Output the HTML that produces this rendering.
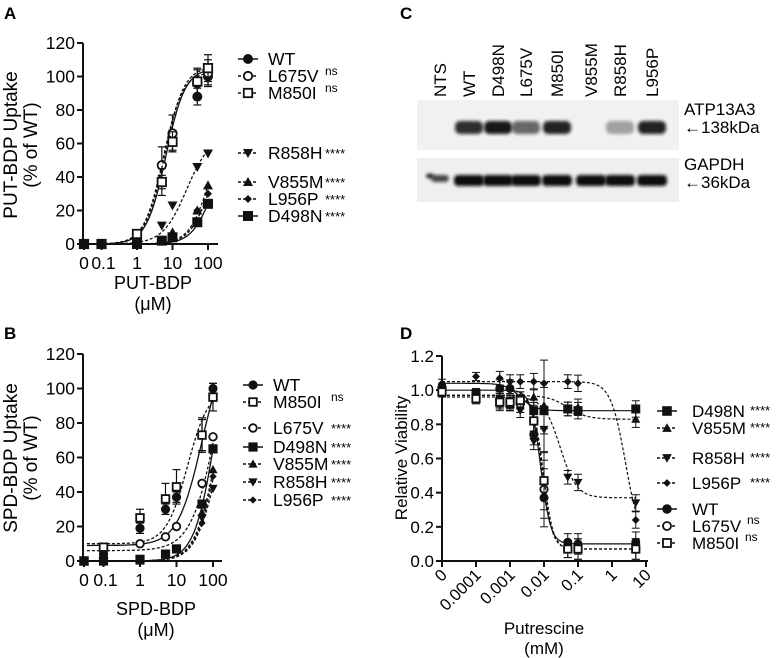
<!DOCTYPE html>
<html><head><meta charset="utf-8"><style>
body{margin:0;background:#fff;}
svg{display:block;font-family:"Liberation Sans",Arial,sans-serif;}
</style></head><body>
<svg id="fig" width="777" height="658" viewBox="0 0 777 658" xmlns="http://www.w3.org/2000/svg">
<defs><filter id="blur" x="-30%" y="-60%" width="160%" height="220%"><feGaussianBlur stdDeviation="1.6"/></filter></defs>
<g id="gA"></g>
<g id="gB"></g>
<g id="gC"></g>
<g id="gD"></g>
</svg>
<script>
// ---------- Panel A data ----------
const concA = [0, 0.1, 1, 5, 10, 50, 100];
const namesA = ["WT","L675V","M850I","R858H","V855M","L956P","D498N"];
const valsA_WT    = [0,0,5,37,62,88,100];
const valsA_L675V = [0,0,6,47,66,96,102];
const valsA_M850I = [0,0,6,37,61,97,105];
const valsA_R858H = [0,0,1,11,23,46,54];
const valsA_V855M = [0,0,0,2,7,20,35];
const valsA_L956P = [0,0,0,2,5,20,30];
const valsA_D498N = [0,0,0,2,4,13,24];
const errA_WT    = [0,0,1,4,6,5,5];
const errA_L675V = [0,0,1,11,11,8,8];
const errA_M850I = [0,0,1,8,6,8,8];
const fitA = [[0,105,6.5,1.6],[0,103,5.5,1.6],[0,106,6,1.6],[0,65,25,1.3],[0,80,118,1.5],[0,70,120,1.5],[0,60,130,1.5]];
const sigA = ["","ns","ns","****","****","****","****"];
const yTicksA = [0,20,40,60,80,100,120];
const xTickValsA = [0.1,1,10,100];
const xTickLabelsA = ["0.1","1","10","100"];

// ---------- Panel B data ----------
const concB = [0, 0.1, 1, 5, 10, 50, 100];
const namesB = ["WT","M850I","L675V","D498N","V855M","R858H","L956P"];
const valsB_WT    = [0,4,19,30,37,73,100];
const valsB_M850I = [0,8,25,36,43,73,95];
const valsB_L675V = [0,0,10,14,20,45,72];
const valsB_D498N = [0,0,1,4,7,33,65];
const valsB_V855M = [0,0,0,4,7,28,53];
const valsB_R858H = [0,0,0,4,7,25,42];
const valsB_L956P = [0,0,0,4,7,22,49];
const errB_WT    = [0,1,3,3,3,9,3];
const errB_M850I = [0,1,5,9,10,10,8];
const fitB = [[9,130,50,1.3],[10,100,20,1.5],[6,170,150,1.2],[0,150,120,1.5],[0,120,120,1.5],[0,100,120,1.5],[0,110,120,1.5]];
const sigB = ["","ns","****","****","****","****","****"];
const yTicksB = [0,20,40,60,80,100,120];

// ---------- Panel D data ----------
const concD = [0,0.0001,0.0005,0.001,0.002,0.005,0.01,0.05,0.1,5];
const namesD = ["D498N","V855M","R858H","L956P","WT","L675V","M850I"];
const valsD_D498N = [1.00,0.98,0.93,0.92,0.95,0.88,0.88,0.89,0.88,0.89];
const valsD_V855M = [1.01,0.97,0.94,0.93,0.93,0.96,0.91,0.89,0.90,0.83];
const valsD_R858H = [1.00,0.97,0.95,0.93,0.88,0.70,0.77,0.49,0.46,0.34];
const valsD_L956P = [1.04,1.08,1.07,1.05,1.05,1.05,1.04,1.05,1.04,0.24];
const valsD_WT    = [1.00,0.98,1.01,1.01,0.92,0.74,0.37,0.11,0.10,0.11];
const valsD_L675V = [1.00,0.96,0.94,0.93,0.92,0.82,0.42,0.07,0.07,0.07];
const valsD_M850I = [0.99,0.95,0.93,0.93,0.94,0.82,0.47,0.07,0.07,0.07];
const errD = [0.03,0.03,0.05,0.05,0.05,0.06,0.17,0.05,0.06,0.06];
const fitD = [[1.04,0.88,0.002,2],[0.97,0.83,0.05,1.5],[0.96,0.37,0.03,1.8],[1.05,0.1,2.5,2],[1.0,0.1,0.008,3],[0.97,0.07,0.009,3],[0.97,0.07,0.0095,3]];
const sigD = ["****","****","****","****","","ns","ns"];
const yTicksD = [0,0.2,0.4,0.6,0.8,1.0,1.2];
const xTickValsD = [0.0001,0.001,0.01,0.1,1,10];
const xTickLabelsD = ["0.0001","0.001","0.01","0.1","1","10"];

// ---------- Panel C data ----------
const lanesC = ["NTS","WT","D498N","L675V","M850I","V855M","R858H","L956P"];
const atpIntensity = [0,0.85,0.95,0.6,0.9,0,0.35,0.9];
const gapdhIntensity = [0.75,1,1,1,1,1,1,1];

const NS="http://www.w3.org/2000/svg";
function el(parent, tag, attrs, text){
  const e=document.createElementNS(NS,tag);
  for(const k in attrs) e.setAttribute(k,attrs[k]);
  if(text!==undefined) e.textContent=text;
  parent.appendChild(e); return e;
}
const markerOf = {WT:"circleF",L675V:"circleO",M850I:"squareO",R858H:"triD",V855M:"triU",L956P:"diamond",D498N:"squareF"};
function marker(g, type, x, y, s){
  let m;
  if(type==="circleF") m=el(g,"circle",{cx:x,cy:y,r:s,fill:"#111"});
  else if(type==="circleO") m=el(g,"circle",{cx:x,cy:y,r:s-0.8,fill:"#fff",stroke:"#111","stroke-width":1.8});
  else if(type==="squareO") m=el(g,"rect",{x:x-s+0.8,y:y-s+0.8,width:2*s-1.6,height:2*s-1.6,fill:"#fff",stroke:"#111","stroke-width":1.8});
  else if(type==="squareF") m=el(g,"rect",{x:x-s,y:y-s,width:2*s,height:2*s,fill:"#111"});
  else if(type==="triD") m=el(g,"polygon",{points:`${x-s},${y-s*0.8} ${x+s},${y-s*0.8} ${x},${y+s}`,fill:"#111"});
  else if(type==="triU") m=el(g,"polygon",{points:`${x-s},${y+s*0.8} ${x+s},${y+s*0.8} ${x},${y-s}`,fill:"#111"});
  else m=el(g,"polygon",{points:`${x-s*0.8},${y} ${x},${y-s*0.8} ${x+s*0.8},${y} ${x},${y+s*0.8}`,fill:"#111"});
  
  
  return m;
}
function dashOf(n){return (n==="WT"||n==="D498N")?"":"3,2";}
function up(p,c){return p[0]+(p[1]-p[0])/(1+Math.pow(p[2]/c,p[3]));}
function down(p,c){return p[1]+(p[0]-p[1])/(1+Math.pow(c/p[2],p[3]));}

function uptakePanel(g, cfg){
  const {xs, ys, names, vals, errs, fits, sig} = cfg;
  const ax=el(g,"g",{});  
  el(ax,"line",{x1:cfg.x0,y1:ys(0),x2:cfg.x0,y2:ys(120),stroke:"#111","stroke-width":2});
  el(ax,"line",{x1:cfg.x0,y1:ys(0),x2:cfg.xEnd,y2:ys(0),stroke:"#111","stroke-width":2});
  cfg.yTicks.forEach(v=>{
    el(ax,"line",{x1:cfg.x0-6,y1:ys(v),x2:cfg.x0,y2:ys(v),stroke:"#111","stroke-width":2});
    const t=el(ax,"text",{x:cfg.x0-8,y:ys(v)+6,"text-anchor":"end","font-size":17.5},String(v));
     
  });
  const ticks=[[cfg.xZero,"0"]].concat(xTickValsA.map((v,i)=>[xs(v),xTickLabelsA[i]]));
  ticks.forEach(([x,l],i)=>{
    el(ax,"line",{x1:x,y1:ys(0),x2:x,y2:ys(0)+6,stroke:"#111","stroke-width":2});
    const t=el(ax,"text",{x:x+(i===0?0:(i===1?2:0)),y:ys(0)+25,"text-anchor":"middle","font-size":17.5},l);
     
  });
  names.forEach((n,si)=>{
    const sg=el(g,"g",{});
    
    
    let d="";
    for(let k=0;k<=80;k++){const lc=Math.log10(cfg.cStart)+(2-Math.log10(cfg.cStart))*k/80;const c=Math.pow(10,lc);
      d+=(k?"L":"M")+xs(c).toFixed(1)+","+ys(up(fits[si],c)).toFixed(1);}
    const p=el(sg,"path",{d:d,fill:"none",stroke:"#111","stroke-width":1.3,"stroke-dasharray":dashOf(n)});
     
    const e=errs[n];
    vals[n].forEach((v,i)=>{
      const x=cfg.conc[i]===0?cfg.xZero:xs(cfg.conc[i]);
      if(e&&e[i]>0){
        el(sg,"line",{x1:x,y1:ys(v-e[i]),x2:x,y2:ys(v+e[i]),stroke:"#111","stroke-width":1.2});
        el(sg,"line",{x1:x-4,y1:ys(v+e[i]),x2:x+4,y2:ys(v+e[i]),stroke:"#111","stroke-width":1.2});
        el(sg,"line",{x1:x-4,y1:ys(v-e[i]),x2:x+4,y2:ys(v-e[i]),stroke:"#111","stroke-width":1.2});
      }
      marker(sg,markerOf[n],x,ys(v),cfg.ms);
    });
  });
  names.forEach((n,i)=>{
    const lg=el(g,"g",{});
    
    
    const y=cfg.legY[i];
    el(lg,"line",{x1:cfg.legX-10,y1:y,x2:cfg.legX+10,y2:y,stroke:"#111","stroke-width":1.5,"stroke-dasharray":dashOf(n)});
    marker(lg,markerOf[n],cfg.legX,y,cfg.ms);
    el(lg,"text",{x:cfg.legX+20,y:y+6,"font-size":17.5},n);
    if(sig[i]) el(lg,"text",{x:cfg.sigX,y:y+(sig[i]==="ns"?-1:5),"font-size":sig[i]==="ns"?12:13},sig[i]);
  });
}

// ---------- Panel A ----------
(function(){
  const g=document.getElementById("gA");
  const t=el(g,"text",{x:4,y:19,"font-size":17,"font-weight":"bold"},"A");
   
  const ys=v=>244-v*(201/120), xs=c=>137+35.5*Math.log10(c);
  const yt=el(g,"text",{transform:"translate(17,145) rotate(-90)","text-anchor":"middle","font-size":19},"PUT-BDP Uptake");
   
  el(g,"text",{transform:"translate(37,145) rotate(-90)","text-anchor":"middle","font-size":19},"(% of WT)");
  const xt=el(g,"text",{x:153,y:289,"text-anchor":"middle","font-size":18},"PUT-BDP");
   
  el(g,"text",{x:153,y:310,"text-anchor":"middle","font-size":18},"(μM)");
  uptakePanel(g,{xs,ys,x0:83,xEnd:218,xZero:84,cStart:0.035,conc:concA,yTicks:yTicksA,ms:5,
    names:namesA,vals:{WT:valsA_WT,L675V:valsA_L675V,M850I:valsA_M850I,R858H:valsA_R858H,V855M:valsA_V855M,L956P:valsA_L956P,D498N:valsA_D498N},
    errs:{WT:errA_WT,L675V:errA_L675V,M850I:errA_M850I},fits:fitA,sig:sigA,
    legX:248,legY:[59,76,93,153,182,199,216],sigX:325});
})();

// ---------- Panel B ----------
(function(){
  const g=document.getElementById("gB");
  const t=el(g,"text",{x:4,y:339,"font-size":17,"font-weight":"bold"},"B");
   
  const ys=v=>561-v*(207/120), xs=c=>140+36.5*Math.log10(c);
  const yt=el(g,"text",{transform:"translate(17,458) rotate(-90)","text-anchor":"middle","font-size":19},"SPD-BDP Uptake");
   
  el(g,"text",{transform:"translate(37,458) rotate(-90)","text-anchor":"middle","font-size":19},"(% of WT)");
  const xt=el(g,"text",{x:156,y:615,"text-anchor":"middle","font-size":18},"SPD-BDP");
   
  el(g,"text",{x:156,y:636,"text-anchor":"middle","font-size":18},"(μM)");
  uptakePanel(g,{xs,ys,x0:83,xEnd:222,xZero:84,cStart:0.035,conc:concB,yTicks:yTicksB,ms:4.6,
    names:namesB,vals:{WT:valsB_WT,M850I:valsB_M850I,L675V:valsB_L675V,D498N:valsB_D498N,V855M:valsB_V855M,R858H:valsB_R858H,L956P:valsB_L956P},
    errs:{WT:errB_WT,M850I:errB_M850I},fits:fitB,sig:sigB,
    legX:253,legY:[385,402,428,447,464,482,500],sigX:331});
})();

// ---------- Panel C ----------
(function(){
  const g=document.getElementById("gC");
  const t=el(g,"text",{x:400,y:19,"font-size":17,"font-weight":"bold"},"C");
   
  const laneX=[440,469,498,526,557,591,620,652];
  const b1=el(g,"rect",{x:417,y:100,width:262,height:50,fill:"#f1f1f1"});
   
  const b2=el(g,"rect",{x:417,y:158,width:262,height:44,fill:"#efefef"});
   
  lanesC.forEach((n,i)=>{
    const lt=el(g,"text",{transform:`translate(${laneX[i]+6},97) rotate(-90)`,"font-size":17},n);
     
    if(atpIntensity[i]>0){
      const a=el(g,"rect",{x:laneX[i]-14,y:121,width:28,height:13,rx:5,fill:"#111",opacity:atpIntensity[i],filter:"url(#blur)"});
       
    }
    const w=i===0?18:30;
    const gb=el(g,"rect",{x:laneX[i]-w/2,y:175,width:w,height:i===0?7:11,rx:4,fill:"#111",opacity:gapdhIntensity[i],filter:"url(#blur)"});
     
  });
  el(g,"ellipse",{cx:430,cy:176,rx:4,ry:2.5,fill:"#222",filter:"url(#blur)"});
  const r=[["ATP13A3",115],["←138kDa",133],["GAPDH",170],["←36kDa",188]];
  r.forEach(([s,y])=>{const tt=el(g,"text",{x:684,y:y,"font-size":17},s);
     });
})();

// ---------- Panel D ----------
(function(){
  const g=document.getElementById("gD");
  const t=el(g,"text",{x:400,y:339,"font-size":17,"font-weight":"bold"},"D");
   
  const ys=v=>561-v*(205/1.2), xs=c=>544+34*Math.log10(c/0.01);
  const x0=442, xZero=442;
  const yt=el(g,"text",{transform:"translate(407,458) rotate(-90)","text-anchor":"middle","font-size":17},"Relative Viability");
   
  const xt=el(g,"text",{x:544,y:634,"text-anchor":"middle","font-size":17},"Putrescine");
   
  el(g,"text",{x:544,y:654,"text-anchor":"middle","font-size":17},"(mM)");
  const ax=el(g,"g",{});  
  el(ax,"line",{x1:x0,y1:ys(0),x2:x0,y2:ys(1.2),stroke:"#111","stroke-width":2});
  el(ax,"line",{x1:x0,y1:ys(0),x2:648,y2:ys(0),stroke:"#111","stroke-width":2});
  yTicksD.forEach(v=>{
    el(ax,"line",{x1:x0-6,y1:ys(v),x2:x0,y2:ys(v),stroke:"#111","stroke-width":2});
    const tl=el(ax,"text",{x:x0-8,y:ys(v)+6,"text-anchor":"end","font-size":17},v.toFixed(1));
     
  });
  [[xZero,"0"]].concat(xTickValsD.map((v,i)=>[xs(v),xTickLabelsD[i]])).forEach(([x,l])=>{
    el(ax,"line",{x1:x,y1:ys(0),x2:x,y2:ys(0)+6,stroke:"#111","stroke-width":2});
    const tl=el(ax,"text",{transform:`translate(${x+6},${ys(0)+15}) rotate(-45)`,"text-anchor":"end","font-size":16.5},l);
     
  });
  const vals={D498N:valsD_D498N,V855M:valsD_V855M,R858H:valsD_R858H,L956P:valsD_L956P,WT:valsD_WT,L675V:valsD_L675V,M850I:valsD_M850I};
  namesD.forEach((n,si)=>{
    const sg=el(g,"g",{});
    
    
    let d="";
    for(let k=0;k<=120;k++){const lc=-5+(Math.log10(5)+5)*k/120;const c=Math.pow(10,lc);
      d+=(k?"L":"M")+xs(c).toFixed(1)+","+ys(down(fitD[si],c)).toFixed(1);}
    const p=el(sg,"path",{d:d,fill:"none",stroke:"#111","stroke-width":1.2,"stroke-dasharray":dashOf(n)});
     
    vals[n].forEach((v,i)=>{
      const x=concD[i]===0?xZero:xs(concD[i]);
      const e=errD[i]*(n==="WT"||n==="L675V"||n==="M850I"?1:0.8);
      el(sg,"line",{x1:x,y1:ys(v-e),x2:x,y2:ys(v+e),stroke:"#111","stroke-width":1});
      el(sg,"line",{x1:x-4,y1:ys(v+e),x2:x+4,y2:ys(v+e),stroke:"#111","stroke-width":1});
      el(sg,"line",{x1:x-4,y1:ys(v-e),x2:x+4,y2:ys(v-e),stroke:"#111","stroke-width":1});
      marker(sg,markerOf[n],x,ys(v),n==="L956P"?5:4.5);
    });
  });
  const legY=[411,428,458,483,509,526,543];
  namesD.forEach((n,i)=>{
    const lg=el(g,"g",{});
    
    
    const y=legY[i], lx=667;
    el(lg,"line",{x1:lx-10,y1:y,x2:lx+10,y2:y,stroke:"#111","stroke-width":1.5,"stroke-dasharray":dashOf(n)});
    marker(lg,markerOf[n],lx,y,4.8);
    el(lg,"text",{x:692,y:y+6,"font-size":17},n);
    if(sigD[i]) el(lg,"text",{x:692+(n==="L675V"?55:(n==="M850I"?53:58)),y:y+(sigD[i]==="ns"?-2:4),"font-size":sigD[i]==="ns"?12:13},sigD[i]);
  });
})();
</script>
</body></html>
